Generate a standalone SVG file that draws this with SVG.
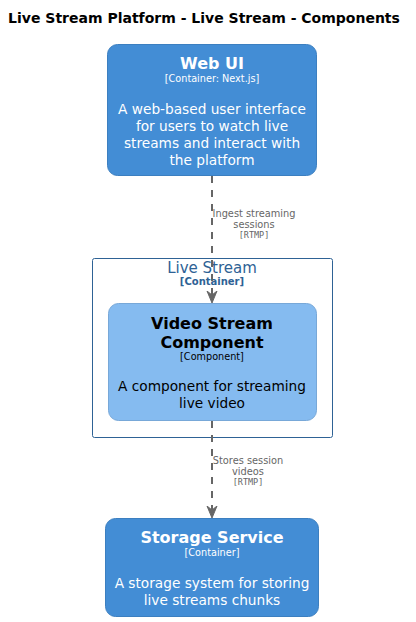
<svg xmlns="http://www.w3.org/2000/svg" width="416" height="622" viewBox="0 0 416 622">
<defs>
<marker id="arr" viewBox="0 0 12 12" refX="11" refY="6" markerWidth="12" markerHeight="12" markerUnits="userSpaceOnUse" orient="auto">
<path d="M0,1 L12,6 L0,11 L4,6 Z" fill="#666666" stroke="#666666" stroke-width="1"/>
</marker>
</defs>
<style>
text{font-family:"DejaVu Sans","Liberation Sans",sans-serif;text-anchor:middle}
.title{font-size:14px;font-weight:bold;fill:#000}
.cont{fill:#438DD5;stroke:#3C7FC0;stroke-width:1}
.comp{fill:#85BBF0;stroke:#78A8D8;stroke-width:1}
.nt{font-size:16px;font-weight:bold}
.st{font-size:9.7px}
.ds{font-size:13.7px}
.w{fill:#FFFFFF}
.k{fill:#000000}
.edge{stroke:#666666;stroke-width:2;stroke-dasharray:7,7;fill:none}
.el{font-size:9.8px;fill:#666666}
.em{font-size:8.5px;fill:#666666;font-family:"DejaVu Sans Mono","Liberation Mono",monospace}
</style>
<text class="title" x="204" y="23">Live Stream Platform - Live Stream - Components</text>
<g id="boundary">
<rect x="92.5" y="258.5" width="240" height="179" fill="none" stroke="#2E6295" stroke-width="1" rx="2"/>
<text x="212" y="273" font-size="15" fill="#2E6295">Live Stream</text>
<text x="212" y="285" font-size="10" font-weight="bold" fill="#2E6295">[Container]</text>
</g>
<g id="webui">
<rect class="cont" x="107.5" y="44.5" width="209" height="131" rx="10"/>
<text class="nt w" x="212" y="69">Web UI</text>
<text class="st w" x="212" y="82">[Container: Next.js]</text>
<text class="ds w" x="212" y="114">A web-based user interface</text>
<text class="ds w" x="212" y="131">for users to watch live</text>
<text class="ds w" x="212" y="148">streams and interact with</text>
<text class="ds w" x="212" y="165">the platform</text>
</g>
<g id="videostream">
<rect class="comp" x="108.5" y="303.5" width="208" height="117" rx="10"/>
<text class="nt k" x="212" y="329">Video Stream</text>
<text class="nt k" x="212" y="348">Component</text>
<text class="st k" x="212" y="360">[Component]</text>
<text class="ds k" x="212" y="391">A component for streaming</text>
<text class="ds k" x="212" y="408">live video</text>
</g>
<g id="storage">
<rect class="cont" x="105.5" y="518.5" width="213" height="98" rx="10"/>
<text class="nt w" x="212" y="543">Storage Service</text>
<text class="st w" x="212" y="556">[Container]</text>
<text class="ds w" x="212" y="588">A storage system for storing</text>
<text class="ds w" x="212" y="605">live streams chunks</text>
</g>
<g id="connectors">
<path class="edge" d="M212,176 L212,302" marker-end="url(#arr)"/>
<text class="el" x="254" y="217">Ingest streaming</text>
<text class="el" x="254" y="228">sessions</text>
<text class="em" x="254" y="238">[RTMP]</text>
<path class="edge" d="M212,421 L212,517" marker-end="url(#arr)"/>
<text class="el" x="248" y="464">Stores session</text>
<text class="el" x="248" y="475">videos</text>
<text class="em" x="248" y="485">[RTMP]</text>
</g>
</svg>
